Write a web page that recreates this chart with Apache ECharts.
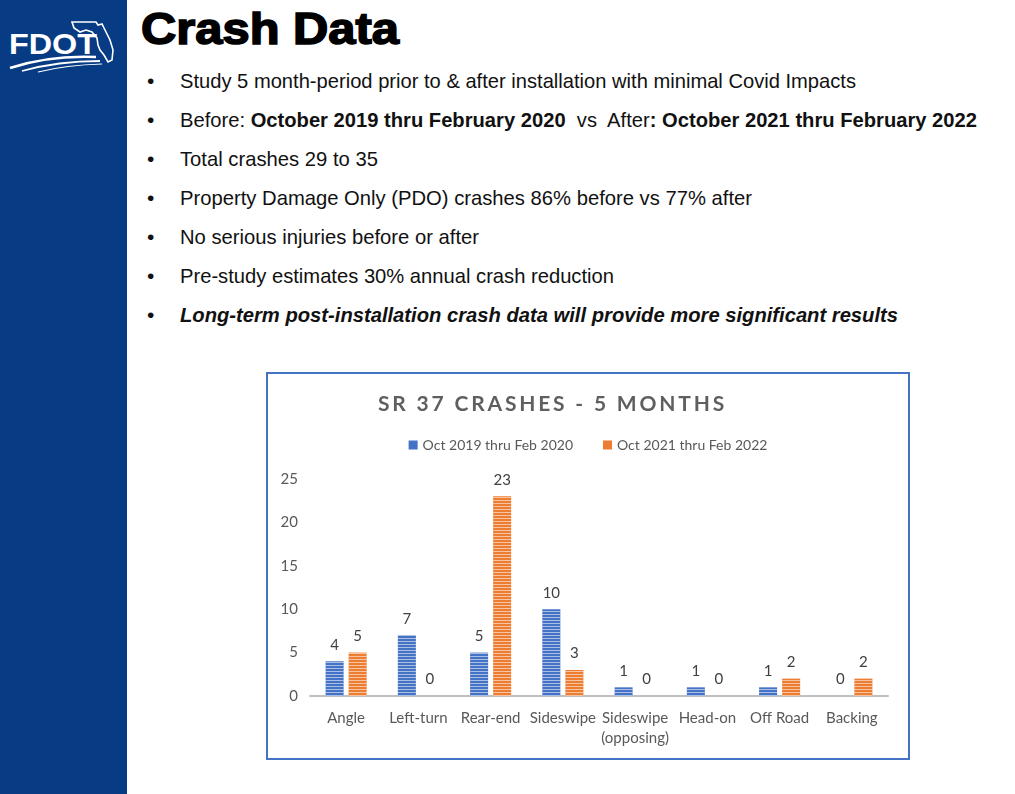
<!DOCTYPE html>
<html>
<head>
<meta charset="utf-8">
<script src="https://cdn.jsdelivr.net/npm/echarts@6/dist/echarts.min.js"></script>
<style>
  html, body { margin:0; padding:0; background:#fff; }
  body { width:1015px; height:794px; position:relative; overflow:hidden; font-family:"Liberation Sans", Arial, sans-serif; }
  #side { position:absolute; left:0; top:0; width:127px; height:794px; background:#073b83; }
  #logo { position:absolute; left:0; top:0; }
  #heading { position:absolute; left:141px; top:4px; font-size:44px; font-weight:900; color:#000; white-space:nowrap; transform-origin:0 0; -webkit-text-stroke:1.6px #000; }
  .b { position:absolute; left:147px; font-size:21px; color:#111; white-space:nowrap; }
  .b .dot { position:absolute; left:0; top:0; }
  .b .t { position:absolute; left:33px; top:0; transform-origin:0 0; white-space:nowrap; }
  #box { position:absolute; left:266px; top:372px; width:644px; height:388px; border:2px solid #4472C4; box-sizing:border-box; }
  #chart { position:absolute; left:268px; top:374px; width:640px; height:384px; }
  #ctitle { position:absolute; top:390px; left:378px; font-family:Lato, "Open Sans", sans-serif; font-weight:bold; font-size:21px; color:#5f5f5f; white-space:nowrap; }
</style>
</head>
<body>
<div id="side"></div>
<svg id="logo" width="127" height="80" viewBox="0 0 127 80">
  <path d="M72 22 L96 22 L98 25 L102 24 L105 30 L110 40 L113 50 L112 60 L108 62 L104 55 L100 50 L98 45 L97 38 L92 32 L86 30 L80 32 L74 28 Z" fill="none" stroke="#fff" stroke-width="1.6"/>
  <text x="9" y="54" font-family="Liberation Sans, Arial, sans-serif" font-weight="bold" font-size="30" fill="#fff" textLength="88" lengthAdjust="spacingAndGlyphs">FDOT</text>
  <path d="M10 68 Q50 55 96 57" fill="none" stroke="#fff" stroke-width="2.6"/>
  <path d="M22 71 Q58 61 100 61" fill="none" stroke="#fff" stroke-width="1.8"/>
  <path d="M38 72 Q66 65 102 64" fill="none" stroke="#fff" stroke-width="1.2"/>
</svg>
<div id="heading">Crash Data</div>

<div class="b" style="top:69px"><span class="dot">•</span><span class="t" data-w="676">Study 5 month-period prior to &amp; after installation with minimal Covid Impacts</span></div>
<div class="b" style="top:108px"><span class="dot">•</span><span class="t" data-w="797">Before: <b>October 2019 thru February 2020</b>&nbsp; vs&nbsp; After<b>: October 2021 thru February 2022</b></span></div>
<div class="b" style="top:147px"><span class="dot">•</span><span class="t" data-w="198">Total crashes 29 to 35</span></div>
<div class="b" style="top:186px"><span class="dot">•</span><span class="t" data-w="572">Property Damage Only (PDO) crashes 86% before vs 77% after</span></div>
<div class="b" style="top:225px"><span class="dot">•</span><span class="t" data-w="299">No serious injuries before or after</span></div>
<div class="b" style="top:264px"><span class="dot">•</span><span class="t" data-w="434">Pre-study estimates 30% annual crash reduction</span></div>
<div class="b" style="top:303px"><span class="dot">•</span><span class="t" data-w="718"><b><i>Long-term post-installation crash data will provide more significant results</i></b></span></div>

<div id="box"></div>
<div id="chart"></div>
<div id="ctitle">SR 37 CRASHES - 5 MONTHS</div>

<script>
// ---- data ----
var categories = ['Angle', 'Left-turn', 'Rear-end', 'Sideswipe', 'Sideswipe\n(opposing)', 'Head-on', 'Off Road', 'Backing'];
var seriesNames = ['Oct 2019 thru Feb 2020', 'Oct 2021 thru Feb 2022'];
var before = [4, 7, 5, 10, 1, 1, 1, 0];
var after = [5, 0, 23, 3, 0, 0, 2, 2];
var yTicks = [0, 5, 10, 15, 20, 25];

// ---- fit slide text widths ----
document.querySelectorAll('.b .t').forEach(function (el) {
  var target = parseFloat(el.getAttribute('data-w'));
  var w = el.getBoundingClientRect().width;
  if (w > 0) el.style.transform = 'scaleX(' + (target / w) + ')';
});
(function () {
  var h = document.getElementById('heading');
  var w = h.getBoundingClientRect().width;
  h.style.transform = 'scaleX(' + (258 / w) + ')';
  var t = document.getElementById('ctitle');
  var tw = t.getBoundingClientRect().width;
  var n = t.textContent.length;
  t.style.letterSpacing = ((349 - tw) / n) + 'px';
})();

var decal = { symbol: 'rect', symbolSize: 1, dashArrayX: [1, 0], dashArrayY: [1, 2], color: 'rgba(255,255,255,0.55)' };
var fontFam = 'Lato, "Open Sans", sans-serif';

var chart = echarts.init(document.getElementById('chart'));
chart.setOption({
  animation: false,
  textStyle: { fontFamily: fontFam },
  legend: {
    top: 59, left: 'center', itemWidth: 9, itemHeight: 9, itemGap: 30, icon: 'rect',
    itemStyle: { decal: 'none' },
    textStyle: { color: '#595959', fontSize: 14, fontFamily: fontFam },
    data: seriesNames
  },
  grid: { left: 42, right: 20, top: 105, bottom: 62 },
  xAxis: {
    type: 'category', data: categories,
    axisTick: { show: false },
    axisLine: { lineStyle: { color: '#c0c0c0', width: 2 } },
    axisLabel: { color: '#595959', fontSize: 15, margin: 12, interval: 0, lineHeight: 20, fontFamily: fontFam }
  },
  yAxis: {
    type: 'value', min: yTicks[0], max: yTicks[yTicks.length - 1], interval: 5,
    splitLine: { show: false }, axisLine: { show: false }, axisTick: { show: false },
    axisLabel: { color: '#595959', fontSize: 15, margin: 12, fontFamily: fontFam }
  },
  series: [
    {
      name: seriesNames[0], type: 'bar', data: before, barWidth: 18, barGap: '28%',
      itemStyle: { color: '#4472C4', decal: decal },
      label: { show: true, position: 'top', distance: 9, color: '#404040', fontSize: 15, fontFamily: fontFam }
    },
    {
      name: seriesNames[1], type: 'bar', data: after, barWidth: 18,
      itemStyle: { color: '#ED7D31', decal: decal },
      label: { show: true, position: 'top', distance: 9, color: '#404040', fontSize: 15, fontFamily: fontFam }
    }
  ]
});
</script>
</body>
</html>
